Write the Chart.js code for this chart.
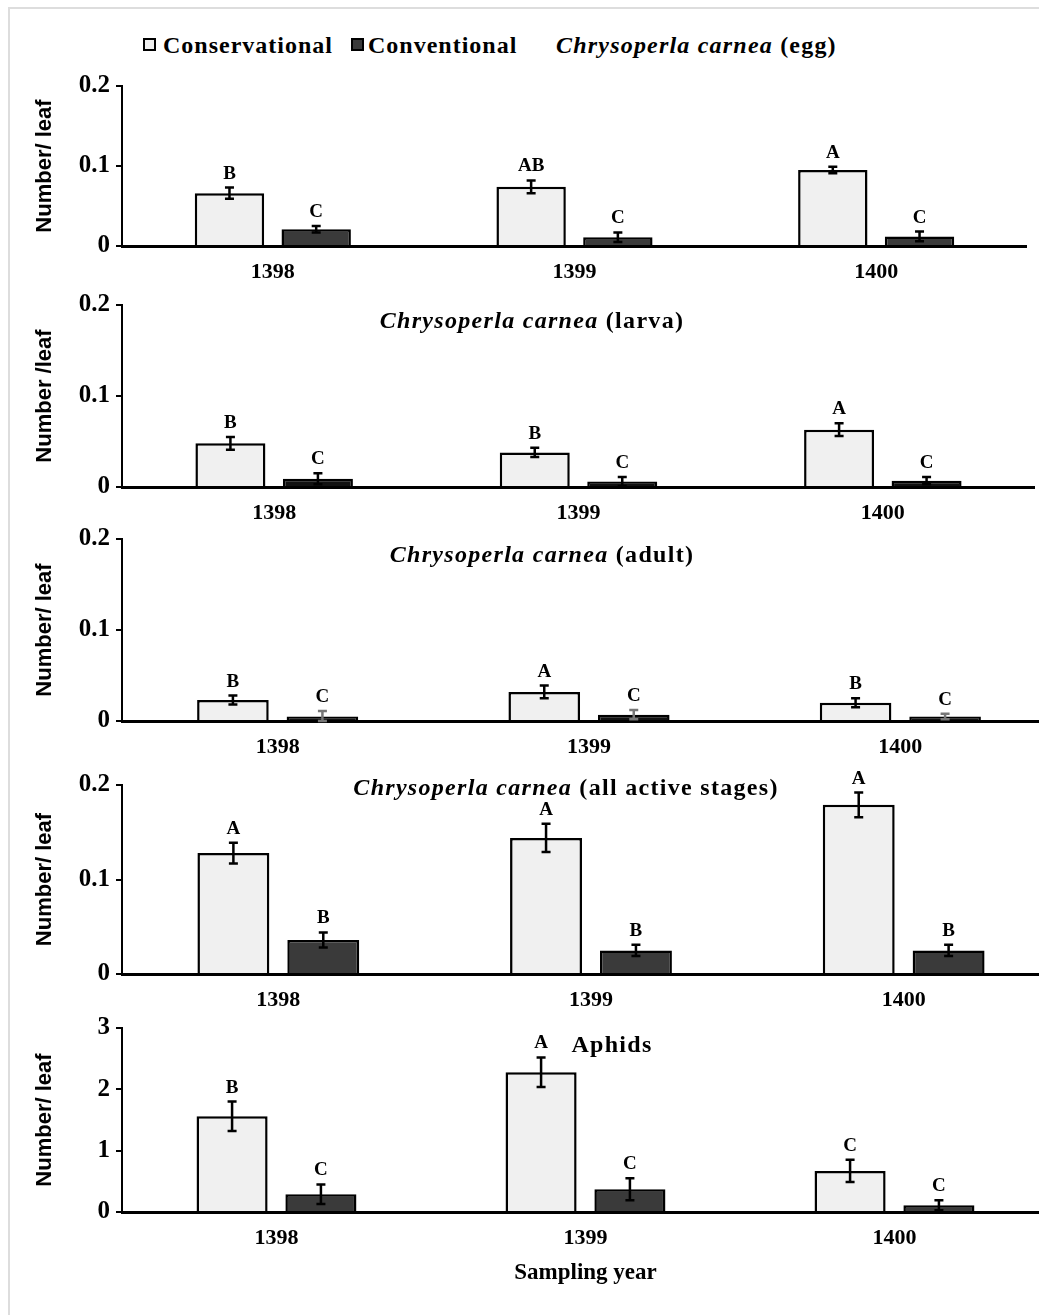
<!DOCTYPE html>
<html>
<head>
<meta charset="utf-8">
<script src="https://cdn.jsdelivr.net/npm/chart.js@4.4.1/dist/chart.umd.min.js"></script>
<style>
  body { margin: 0; background: #fff; }
  #page { position: relative; width: 1039px; height: 1315px; overflow: hidden; background: #fff; }
  #frame { position: absolute; left: 8px; top: 7px; right: -10px; bottom: -10px;
           border-left: 2px solid #ddd; border-top: 2px solid #ddd; }
  .panel { position: absolute; left: 0; }
  .lg { position: absolute; font-family: "Liberation Serif"; font-weight: bold; font-size: 24px;
        line-height: 24px; color: #000; white-space: nowrap; }
  .box { position: absolute; width: 9px; height: 9px; border: 2.5px solid #000; }
</style>
</head>
<body>
<div id="page">
  <div id="frame"></div>
  <div class="box" style="left:143px;top:38px;background:#f0f0f0"></div>
  <div class="lg" style="left:163px;top:33px;letter-spacing:1px">Conservational</div>
  <div class="box" style="left:351px;top:38px;background:#3a3a3a"></div>
  <div class="lg" style="left:368px;top:33px;letter-spacing:1px">Conventional</div>
  <div class="lg" style="left:556px;top:33px;letter-spacing:1.2px"><i>Chrysoperla carnea</i> (egg)</div>
</div>

<script>
const years = ["1398", "1399", "1400"];
const seriesNames = ["Conservational", "Conventional"];
const species = "Chrysoperla carnea";

// egg
const eggCons = [0.066, 0.074, 0.095];
const eggConsSe = [0.007, 0.008, 0.004];
const eggConv = [0.021, 0.011, 0.012];
const eggConvSe = [0.004, 0.006, 0.006];
const eggConsLetters = ["B", "AB", "A"];
const eggConvLetters = ["C", "C", "C"];

// larva
const larvaCons = [0.048, 0.038, 0.063];
const larvaConsSe = [0.007, 0.005, 0.007];
const larvaConv = [0.009, 0.006, 0.007];
const larvaConvSe = [0.006, 0.005, 0.004];
const larvaConsLetters = ["B", "B", "A"];
const larvaConvLetters = ["C", "C", "C"];

// adult
const adultCons = [0.023, 0.032, 0.020];
const adultConsSe = [0.005, 0.007, 0.005];
const adultConv = [0.005, 0.007, 0.005];
const adultConvSe = [0.006, 0.005, 0.003];
const adultConsLetters = ["B", "A", "B"];
const adultConvLetters = ["C", "C", "C"];

// all active stages
const allCons = [0.128, 0.144, 0.179];
const allConsSe = [0.011, 0.015, 0.013];
const allConv = [0.036, 0.025, 0.025];
const allConvSe = [0.008, 0.006, 0.006];
const allConsLetters = ["A", "A", "A"];
const allConvLetters = ["B", "B", "B"];

// aphids
const aphidCons = [1.56, 2.28, 0.67];
const aphidConsSe = [0.24, 0.24, 0.18];
const aphidConv = [0.29, 0.37, 0.11];
const aphidConvSe = [0.16, 0.18, 0.08];
const aphidConsLetters = ["B", "A", "C"];
const aphidConvLetters = ["C", "C", "C"];

const serif = '"Liberation Serif", serif';

// error bars, letters and the panel title
const barExtras = {
    id: "barExtras",
    afterDatasetsDraw(chart, args, opts) {
        const ctx = chart.ctx;
        const y = chart.scales.y;
        chart.data.datasets.forEach((ds, i) => {
            chart.getDatasetMeta(i).data.forEach((bar, j) => {
                const v = ds.data[j], e = ds.se[j];
                const yTop = y.getPixelForValue(v + e);
                const yBot = y.getPixelForValue(Math.max(v - e, 0));
                ctx.save();
                ctx.strokeStyle = ds.seColor;
                ctx.lineWidth = 2.5;
                ctx.beginPath();
                ctx.moveTo(bar.x, yTop); ctx.lineTo(bar.x, yBot);
                ctx.moveTo(bar.x - 4.5, yTop); ctx.lineTo(bar.x + 4.5, yTop);
                ctx.moveTo(bar.x - 4.5, yBot); ctx.lineTo(bar.x + 4.5, yBot);
                ctx.stroke();
                ctx.fillStyle = "#000";
                ctx.font = "bold 19px " + serif;
                ctx.textAlign = "center";
                ctx.textBaseline = "alphabetic";
                ctx.fillText(ds.letters[j], bar.x, yTop - 9);
                ctx.restore();
            });
        });

        if (!opts.title) return;
        const t = opts.title;
        const ty = t.y - opts.offsetY;
        ctx.save();
        ctx.fillStyle = "#000";
        ctx.textBaseline = "middle";
        ctx.textAlign = "left";
        ctx.letterSpacing = "1.3px";
        const itFont = "italic bold 24px " + serif;
        const upFont = "bold 24px " + serif;
        ctx.font = itFont;
        const w1 = t.ital ? ctx.measureText(t.ital + " ").width : 0;
        ctx.font = upFont;
        const w2 = ctx.measureText(t.text).width;
        let x = t.x - (w1 + w2) / 2;
        if (t.ital) {
            ctx.font = itFont;
            ctx.fillText(t.ital + " ", x, ty);
            x += w1;
        }
        ctx.font = upFont;
        ctx.fillText(t.text, x, ty);
        ctx.restore();
    }
};

function panel(p) {
    const padTop = 20, padLeft = 28;
    const div = document.createElement("div");
    div.className = "panel";
    const width = 122 + p.w;
    const height = padTop + (p.zeroY - p.topY) + p.xH;
    const offsetY = p.topY - padTop;
    div.style.top = offsetY + "px";
    div.style.width = width + "px";
    div.style.height = height + "px";
    const canvas = document.createElement("canvas");
    canvas.width = width;
    canvas.height = height;
    div.appendChild(canvas);
    document.getElementById("page").appendChild(div);

    new Chart(canvas.getContext("2d"), {
        type: "bar",
        data: {
            labels: years,
            datasets: [
                {
                    label: seriesNames[0], data: p.cons, se: p.consSe, letters: p.consLetters,
                    seColor: "#000", backgroundColor: "#f0f0f0", borderColor: "#000", borderWidth: 2.5
                },
                {
                    label: seriesNames[1], data: p.conv, se: p.convSe, letters: p.convLetters,
                    seColor: p.convSeColor, backgroundColor: p.convColor, borderColor: "#000", borderWidth: 2.5
                }
            ]
        },
        options: {
            responsive: false,
            animation: false,
            layout: { padding: { top: padTop, left: padLeft, right: 0, bottom: 0 } },
            datasets: { bar: { categoryPercentage: 0.575, barPercentage: 0.8 } },
            plugins: {
                legend: { display: false },
                tooltip: { enabled: false },
                barExtras: { title: p.title, offsetY: offsetY }
            },
            scales: {
                x: {
                    grid: { display: false, drawTicks: false },
                    border: { display: true, color: "#000", width: 3 },
                    ticks: { color: "#000", padding: 13, font: { family: serif, size: 22, weight: "bold" } },
                    title: p.xTitle ? {
                        display: true, text: p.xTitle, color: "#000", padding: { top: 4, bottom: 4 },
                        font: { family: serif, size: 23, weight: "bold" }
                    } : { display: false },
                    afterFit(scale) { scale.height = p.xH; }
                },
                y: {
                    min: 0, max: p.max,
                    grid: { drawOnChartArea: false, drawTicks: true, tickLength: 6, color: "#000", lineWidth: 2 },
                    border: { display: true, color: "#000", width: 2 },
                    ticks: { stepSize: p.step, color: "#000", padding: 6, font: { family: serif, size: 25, weight: "bold" } },
                    title: {
                        display: true, text: p.yTitle, color: "#000",
                        font: { family: '"Liberation Sans", sans-serif', size: 22, weight: "bold" }
                    },
                    afterFit(scale) { scale.width = 122 - padLeft; }
                }
            }
        },
        plugins: [barExtras]
    });
}

panel({
    topY: 85, zeroY: 246, w: 905, xH: 40, max: 0.2, step: 0.1, yTitle: "Number/ leaf",
    cons: eggCons, consSe: eggConsSe, consLetters: eggConsLetters,
    conv: eggConv, convSe: eggConvSe, convLetters: eggConvLetters,
    convColor: "#3a3a3a", convSeColor: "#000"
});
panel({
    topY: 304, zeroY: 487, w: 913, xH: 40, max: 0.2, step: 0.1, yTitle: "Number /leaf",
    cons: larvaCons, consSe: larvaConsSe, consLetters: larvaConsLetters,
    conv: larvaConv, convSe: larvaConvSe, convLetters: larvaConvLetters,
    convColor: "#111", convSeColor: "#000",
    title: { ital: species, text: "(larva)", x: 532, y: 322 }
});
panel({
    topY: 538, zeroY: 721, w: 934, xH: 40, max: 0.2, step: 0.1, yTitle: "Number/ leaf",
    cons: adultCons, consSe: adultConsSe, consLetters: adultConsLetters,
    conv: adultConv, convSe: adultConvSe, convLetters: adultConvLetters,
    convColor: "#111", convSeColor: "#777",
    title: { ital: species, text: "(adult)", x: 542, y: 556 }
});
panel({
    topY: 784, zeroY: 974, w: 938, xH: 40, max: 0.2, step: 0.1, yTitle: "Number/ leaf",
    cons: allCons, consSe: allConsSe, consLetters: allConsLetters,
    conv: allConv, convSe: allConvSe, convLetters: allConvLetters,
    convColor: "#3a3a3a", convSeColor: "#000",
    title: { ital: species, text: "(all active stages)", x: 566, y: 789 }
});
panel({
    topY: 1027, zeroY: 1212, w: 927, xH: 79, max: 3, step: 1, yTitle: "Number/ leaf", xTitle: "Sampling year",
    cons: aphidCons, consSe: aphidConsSe, consLetters: aphidConsLetters,
    conv: aphidConv, convSe: aphidConvSe, convLetters: aphidConvLetters,
    convColor: "#3a3a3a", convSeColor: "#000",
    title: { ital: "", text: "Aphids", x: 612, y: 1046 }
});
</script>
</body>
</html>
